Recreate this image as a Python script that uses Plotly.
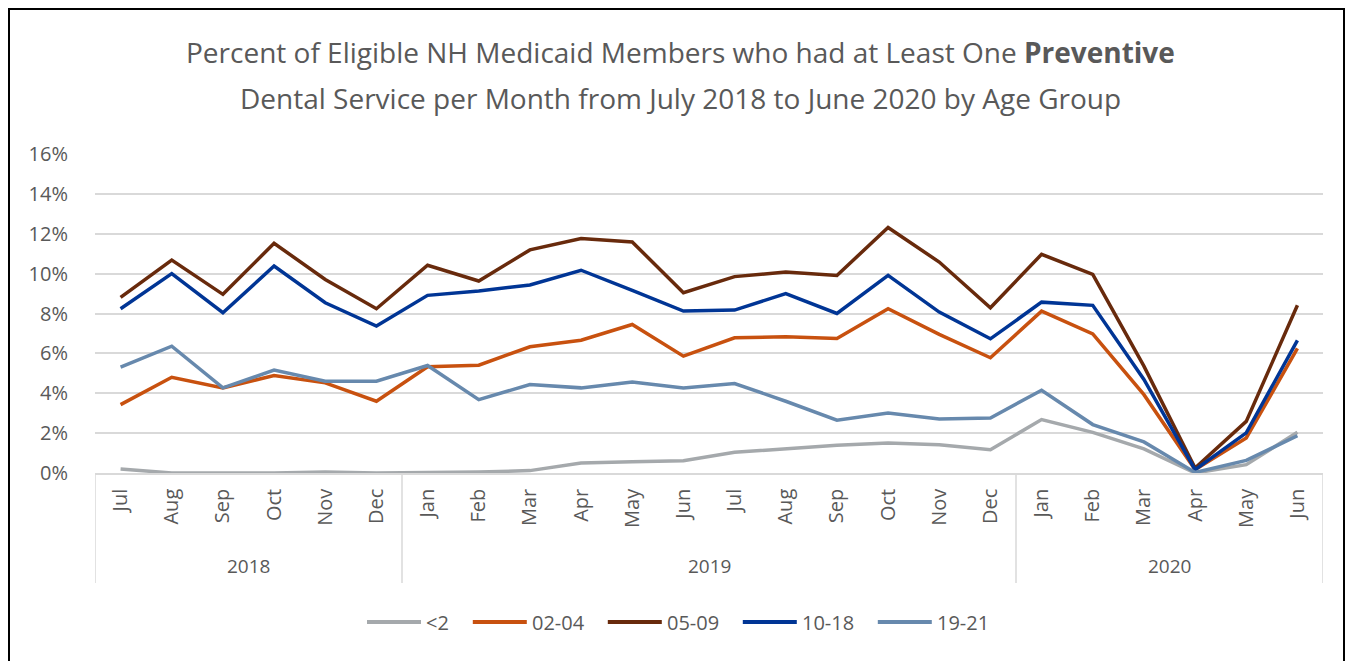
import plotly.graph_objects as go

years = ["2018", "2019", "2020"]
year_counts = [6, 12, 6]
months = ["Jul", "Aug", "Sep", "Oct", "Nov", "Dec",
          "Jan", "Feb", "Mar", "Apr", "May", "Jun", "Jul", "Aug", "Sep", "Oct", "Nov", "Dec",
          "Jan", "Feb", "Mar", "Apr", "May", "Jun"]

lt2 = [0.20, 0.00, 0.00, 0.00, 0.05, 0.00,
       0.03, 0.05, 0.12, 0.50, 0.57, 0.62, 1.04, 1.22, 1.39, 1.51, 1.42, 1.17,
       2.68, 2.04, 1.21, 0.00, 0.42, 2.04]
a02_04 = [3.43, 4.80, 4.27, 4.89, 4.52, 3.60,
          5.33, 5.41, 6.33, 6.66, 7.45, 5.86, 6.78, 6.83, 6.75, 8.24, 6.95, 5.78,
          8.12, 6.98, 3.93, 0.17, 1.76, 6.25]
a05_09 = [8.81, 10.68, 8.96, 11.52, 9.71, 8.24,
          10.42, 9.63, 11.19, 11.76, 11.59, 9.04, 9.85, 10.08, 9.91, 12.31, 10.58, 8.29,
          10.97, 9.96, 5.36, 0.25, 2.59, 8.41]
a10_18 = [8.24, 10.00, 8.04, 10.38, 8.54, 7.37,
          8.91, 9.13, 9.43, 10.17, 9.16, 8.12, 8.17, 9.00, 8.00, 9.91, 8.07, 6.73,
          8.57, 8.41, 4.69, 0.17, 2.01, 6.65]
a19_21 = [5.31, 6.36, 4.27, 5.16, 4.60, 4.60,
          5.39, 3.68, 4.44, 4.27, 4.57, 4.26, 4.49, 3.60, 2.65, 3.01, 2.71, 2.76,
          4.15, 2.43, 1.56, 0.03, 0.63, 1.87]

series_names = ["<2", "02-04", "05-09", "10-18", "19-21"]
series_vals = [lt2, a02_04, a05_09, a10_18, a19_21]
colors = ["#A5A9AC", "#C8510F", "#682A0C", "#003595", "#6789AD"]

FONT = "Source Sans Pro, Open Sans, sans-serif"
GRAY = "#595959"
DIV = "#d9d9d9"

idx = list(range(len(months)))

fig = go.Figure()
for name, vals, col in zip(series_names, series_vals, colors):
    fig.add_trace(go.Scatter(
        x=idx, y=[v / 100 for v in vals], mode="lines", name=name,
        line=dict(color=col, width=3.5), hoverinfo="skip", showlegend=False))

# page body has an 8px margin; work in page pixel coordinates
OFF = 8
W, H = 1345, 653
PL, PR, PT, PB = 95, 1323, 154, 473   # plot area in page pixels
L, T = PL - OFF, PT - OFF
R = W - (PR - OFF)
B = H - (PB - OFF)
pw, ph = W - L - R, H - T - B

def px_x(p):
    return (p - OFF - L) / pw

def px_y(p):
    return (H - B - (p - OFF)) / ph

fig.update_layout(
    width=W, height=H,
    margin=dict(l=L, r=R, t=T, b=B, autoexpand=False),
    paper_bgcolor="white", plot_bgcolor="white",
    font=dict(family=FONT, color=GRAY, size=20),
    showlegend=False,
    xaxis=dict(range=[-0.5, len(months) - 0.5], tickmode="array", tickvals=idx, ticktext=months,
               tickangle=-90, showgrid=False, zeroline=False, automargin=False,
               showline=True, linecolor=DIV, linewidth=1.5,
               ticks="", tickfont=dict(size=20, color=GRAY), ticklabelstandoff=6),
    yaxis=dict(range=[0, 0.16], dtick=0.02, tickformat=".0%", showgrid=True,
               gridcolor=DIV, gridwidth=1.5, zeroline=False, showline=False, automargin=False,
               ticks="", tickfont=dict(size=20, color=GRAY), ticklabelstandoff=26),
)

# year group dividers and labels
start = 0
bounds = [-0.5]
for yr, n in zip(years, year_counts):
    center = start + (n - 1) / 2
    fig.add_annotation(text=yr, xref="x", yref="paper", x=center, y=px_y(566),
                       yanchor="middle", showarrow=False, font=dict(size=19, color=GRAY))
    start += n
    bounds.append(start - 0.5)
for b in bounds:
    fig.add_shape(type="line", xref="x", yref="paper", x0=b, x1=b,
                  y0=px_y(473), y1=px_y(583), line=dict(color=DIV, width=1.5))

# custom legend (long line samples, like the original)
char_w = {"<": 11.4, "-": 6.4}
lx = 367
ly = 622
for name, col in zip(series_names, colors):
    fig.add_shape(type="line", xref="paper", yref="paper",
                  x0=px_x(lx), x1=px_x(lx + 54), y0=px_y(ly), y1=px_y(ly),
                  line=dict(color=col, width=4))
    fig.add_annotation(text=name, xref="paper", yref="paper", x=px_x(lx + 57), y=px_y(ly),
                       xanchor="left", yanchor="middle", showarrow=False,
                       font=dict(size=20, color=GRAY))
    tw = sum(char_w.get(c, 11.4) for c in name)
    lx += 54 + 4 + tw + 25

fig.add_annotation(text="Percent of Eligible NH Medicaid Members who had at Least One <b>Preventive</b>",
                   xref="paper", yref="paper", x=px_x(680), y=px_y(52), xanchor="center",
                   yanchor="middle", showarrow=False, font=dict(size=28, color=GRAY, family=FONT))
fig.add_annotation(text="Dental Service per Month from July 2018 to June 2020 by Age Group",
                   xref="paper", yref="paper", x=px_x(680), y=px_y(98), xanchor="center",
                   yanchor="middle", showarrow=False, font=dict(size=28, color=GRAY, family=FONT))

fig.add_shape(type="rect", xref="paper", yref="paper",
              x0=px_x(9), x1=px_x(1344), y0=px_y(720), y1=px_y(9),
              line=dict(color="black", width=2), fillcolor="rgba(0,0,0,0)", layer="below")

fig.write_html("out.html")
